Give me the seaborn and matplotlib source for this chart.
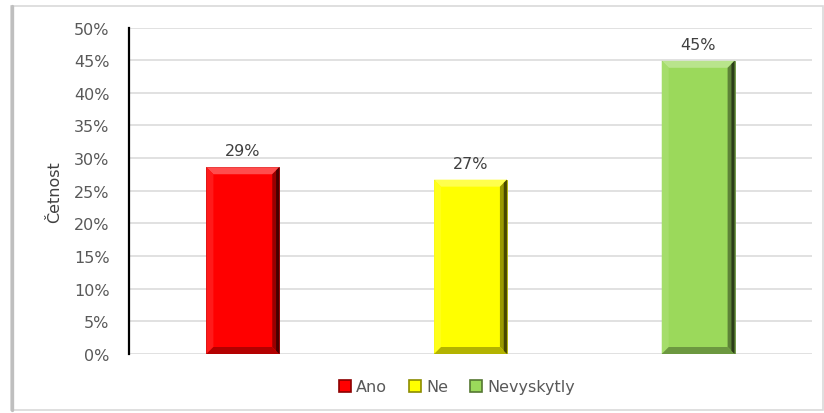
import matplotlib
matplotlib.use("Agg")
import matplotlib.pyplot as plt
import matplotlib.colors as mcolors
from matplotlib.patches import Polygon, Rectangle
from matplotlib.lines import Line2D
from matplotlib.ticker import PercentFormatter
import seaborn as sns
import pandas as pd

# Data
categories = ["Ano", "Ne", "Nevyskytly"]
shares = [0.286, 0.267, 0.449]
bar_colors = ["#FF0000", "#FFFF00", "#9BD95B"]
y_ticks = [0.0, 0.05, 0.10, 0.15, 0.20, 0.25, 0.30, 0.35, 0.40, 0.45, 0.50]
y_label = "Četnost"

sns.set_theme(style="white")
plt.rcParams["font.family"] = ["DejaVu Sans"]

W, H = 824, 414
fig = plt.figure(figsize=(W / 100, H / 100), dpi=100)
fig.patch.set_facecolor("white")

# axes placement in pixels
ax_l, ax_r, ax_t, ax_b = 129, 812, 28.5, 355
ax = fig.add_axes([ax_l / W, (H - ax_b) / H, (ax_r - ax_l) / W, (ax_b - ax_t) / H])

df = pd.DataFrame({"cat": categories, "share": shares})
sns.barplot(data=df, x="cat", y="share", hue="cat", palette=bar_colors,
            width=0.32, ax=ax, legend=False, saturation=1, zorder=3)

ax.set_xlim(-0.5, len(categories) - 0.5)
ax.set_ylim(0, 0.5)
ax.set_yticks(y_ticks)
ax.yaxis.set_major_formatter(PercentFormatter(1.0, decimals=0))
ax.tick_params(axis="y", length=0, pad=14, labelsize=11.5, labelcolor="#595959")
ax.tick_params(axis="x", length=0, labelbottom=False)
ax.set_xlabel("")
ax.set_ylabel(y_label, fontsize=11.5, color="#404040")
ax.yaxis.set_label_coords((62 - ax_l) / (ax_r - ax_l), 0.5)
ax.grid(axis="y", color="#D9D9D9", linewidth=1.1, zorder=0)
ax.set_axisbelow(True)
for side in ["top", "right", "bottom"]:
    ax.spines[side].set_visible(False)
ax.spines["left"].set_color("black")
ax.spines["left"].set_linewidth(1.6)
ax.spines["left"].set_zorder(5)


def shade(c, f):
    r, g, b = mcolors.to_rgb(c)
    if f >= 0:
        return (r + (1 - r) * f, g + (1 - g) * f, b + (1 - b) * f)
    f = -f
    return (r * (1 - f), g * (1 - f), b * (1 - f))


# bevelled faces on each bar
px_x = (len(categories)) / (ax_r - ax_l)     # data units per pixel, x
px_y = 0.5 / (ax_b - ax_t)                    # data units per pixel, y
bev = 7
for patch, col in zip(ax.patches, bar_colors):
    x0 = patch.get_x()
    x1 = x0 + patch.get_width()
    y0 = patch.get_y()
    y1 = y0 + patch.get_height()
    dx, dy = bev * px_x, bev * px_y
    patch.set_edgecolor(shade(col, -0.35))
    patch.set_linewidth(0.6)
    faces = [
        ([(x0, y1), (x1, y1), (x1 - dx, y1 - dy), (x0 + dx, y1 - dy)], shade(col, 0.3)),
        ([(x0, y0), (x0, y1), (x0 + dx, y1 - dy), (x0 + dx, y0 + dy)], shade(col, 0.1)),
        ([(x1, y0), (x1, y1), (x1 - dx, y1 - dy), (x1 - dx, y0 + dy)], shade(col, -0.4)),
        ([(x0, y0), (x1, y0), (x1 - dx, y0 + dy), (x0 + dx, y0 + dy)], shade(col, -0.3)),
    ]
    for pts, fc in faces:
        ax.add_patch(Polygon(pts, closed=True, facecolor=fc, edgecolor="none", zorder=4))
    # darker outer strip on the right face
    ax.add_patch(Polygon([(x1, y0), (x1, y1), (x1 - dx * 0.45, y1 - dy * 0.45),
                          (x1 - dx * 0.45, y0 + dy * 0.45)],
                         closed=True, facecolor=shade(col, -0.72), edgecolor="none", zorder=4))

# value labels
for patch, v in zip(ax.patches[:len(shares)], shares):
    ax.annotate(f"{v:.0%}", (patch.get_x() + patch.get_width() / 2, patch.get_height()),
                xytext=(0, 9), textcoords="offset pixels", ha="center", va="bottom",
                fontsize=11.5, color="#404040", zorder=6)

# legend
handles = [Rectangle((0, 0), 1, 1, facecolor=c, edgecolor=shade(c, -0.45), linewidth=1.2)
           for c in bar_colors]
fig.legend(handles, categories, loc="center", bbox_to_anchor=(457 / W, 1 - 388 / H),
           ncol=3, frameon=False, fontsize=11.5, labelcolor="#595959",
           handlelength=0.75, handleheight=0.75, handletextpad=0.3, columnspacing=1.4)

# chart-area frame
fig.add_artist(Rectangle((11 / W, 3 / H), 812 / W, 404 / H, transform=fig.transFigure,
                         facecolor="none", edgecolor="#D9D9D9", linewidth=1.2))
fig.add_artist(Line2D([11.5 / W, 11.5 / W], [3 / H, 407 / H], transform=fig.transFigure,
                      color="#BFBFBF", linewidth=2.4))

fig.savefig("out.png", dpi=100, facecolor="white")
